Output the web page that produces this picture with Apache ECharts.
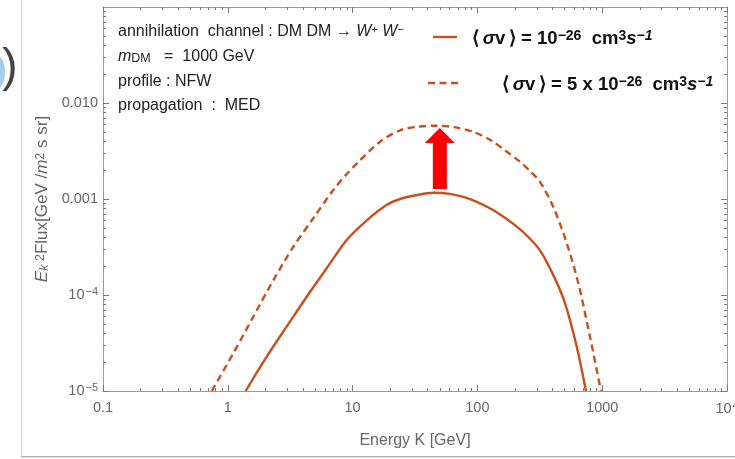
<!DOCTYPE html>
<html><head><meta charset="utf-8">
<script src="https://cdn.jsdelivr.net/npm/echarts@6/dist/echarts.min.js"></script>
<style>html,body{margin:0;padding:0;background:#fff}#c{width:735px;height:459px}</style>
</head><body><div id="c"></div>
<script>
// ---- data ----
const xTickValues = [0.1, 1, 10, 100, 1000, 10000];
const xTickLabels = ['0.1', '1', '10', '100', '1000', '10{sup|4}'];
const yTickValues = [1e-5, 1e-4, 1e-3, 1e-2];
const yTickLabels = ['10{sup|\u22125}', '10{sup|\u22124}', '0.001', '0.010'];
const xMinorValues = [0.2,0.3,0.4,0.5,0.6,0.7,0.8,0.9, 2,3,4,5,6,7,8,9, 20,30,40,50,60,70,80,90, 200,300,400,500,600,700,800,900, 2000,3000,4000,5000,6000,7000,8000,9000];
const yMinorValues = [2e-5,3e-5,4e-5,5e-5,6e-5,7e-5,8e-5,9e-5, 2e-4,3e-4,4e-4,5e-4,6e-4,7e-4,8e-4,9e-4, 2e-3,3e-3,4e-3,5e-3,6e-3,7e-3,8e-3,9e-3, 2e-2,3e-2,4e-2,5e-2,6e-2,7e-2,8e-2,9e-2];

const seriesNames = ['<σv> = 1e-26 cm3/s', '<σv> = 5 x 1e-26 cm3/s'];
const energySolid = [1.39, 2.05, 2.96, 4.29, 6.2, 8.97, 13, 18.7, 24, 33, 44.4, 60, 77, 100, 126, 152, 194, 250, 318, 405, 504, 625, 741];
const fluxSolid   = [1e-5, 2.28e-5, 4.68e-5, 9.6e-5, 1.9e-4, 3.74e-4, 6.0e-4, 8.66e-4, 1.0e-3, 1.1e-3, 1.16e-3, 1.13e-3, 1.05e-3, 9.3e-4, 8.0e-4, 6.9e-4, 5.5e-4, 4.14e-4, 2.9e-4, 1.62e-4, 8.2e-5, 2.9e-5, 1e-5];
const energyDashed = [0.743, 1.107, 1.6, 2.32, 3.35, 4.84, 7.0, 8.97, 11, 16.6, 24, 33, 47, 65, 92.7, 130, 172, 219, 270, 318, 405, 520, 644, 798, 977];
const fluxDashed   = [1e-5, 2.47e-5, 5.94e-5, 1.43e-4, 3.18e-4, 6.3e-4, 1.24e-3, 1.82e-3, 2.4e-3, 3.95e-3, 5.2e-3, 5.65e-3, 5.8e-3, 5.6e-3, 5.0e-3, 4.05e-3, 3.11e-3, 2.45e-3, 1.9e-3, 1.5e-3, 8.3e-4, 3.46e-4, 1.32e-4, 3.68e-5, 1e-5];
const arrowEnergy = 50;
const arrowFluxFrom = 1.27e-3;
const arrowFluxTo = 5.5e-3;

// ---- style ----
const FONT = '"Liberation Sans", Arial, sans-serif';
const LINE_COLOR = '#c9501c';
const AXIS_COLOR = '#9a9a9a';
const LABEL_COLOR = '#666';

function pickLabel(values, labels) {
  return function (v) {
    for (let i = 0; i < values.length; i++) {
      if (Math.abs(Math.log10(v) - Math.log10(values[i])) < 1e-6) return labels[i];
    }
    return '';
  };
}
const labelRich = { sup: { fontSize: 11, color: LABEL_COLOR, verticalAlign: 'top', padding: [0, 0, 6, 1], fontFamily: FONT } };

function xAx(pos, minor, showLabel) {
  return {
    type: 'log', logBase: 10, min: 0.1, max: 10000, position: pos, gridIndex: 0,
    axisLine: { show: !minor, onZero: false, lineStyle: { color: AXIS_COLOR, width: 1 } },
    axisTick: { show: true, inside: true, length: minor ? 3 : 6, customValues: minor ? xMinorValues : xTickValues, lineStyle: { color: '#777' } },
    axisLabel: { show: !!showLabel, customValues: xTickValues, formatter: pickLabel(xTickValues, xTickLabels), color: LABEL_COLOR, fontSize: 14.5, fontFamily: FONT, margin: 9, rich: labelRich, hideOverlap: false, showMaxLabel: true, showMinLabel: true },
    splitLine: { show: false }, minorTick: { show: false },
    name: showLabel ? 'Energy K [GeV]' : '', nameLocation: 'middle', nameGap: 42,
    nameTextStyle: { color: LABEL_COLOR, fontSize: 16, fontFamily: FONT }
  };
}
function yAx(pos, minor, showLabel) {
  return {
    type: 'log', logBase: 10, min: 1e-5, max: 0.1, position: pos, gridIndex: 0,
    axisLine: { show: !minor, onZero: false, lineStyle: { color: AXIS_COLOR, width: 1 } },
    axisTick: { show: true, inside: true, length: minor ? 3 : 6, customValues: minor ? yMinorValues : yTickValues, lineStyle: { color: '#777' } },
    axisLabel: { show: !!showLabel, customValues: yTickValues, formatter: pickLabel(yTickValues, yTickLabels), color: LABEL_COLOR, fontSize: 14.5, fontFamily: FONT, margin: 5, rich: labelRich },
    splitLine: { show: false }, minorTick: { show: false },
    name: showLabel ? '{it|E}{sub|k}{sup2| 2}{n|Flux[GeV /}{it|m}{sup2|2}{n| s sr]}' : '',
    nameLocation: 'middle', nameGap: 52, nameRotate: 90,
    nameTextStyle: {
      color: LABEL_COLOR, fontSize: 17, fontFamily: FONT,
      rich: {
        n: { fontSize: 17, color: LABEL_COLOR, fontFamily: FONT },
        it: { fontSize: 17, fontStyle: 'italic', color: LABEL_COLOR, fontFamily: FONT },
        sub: { fontSize: 12.5, fontStyle: 'italic', color: LABEL_COLOR, fontFamily: FONT, verticalAlign: 'bottom' },
        sup2: { fontSize: 12.5, color: LABEL_COLOR, fontFamily: FONT, verticalAlign: 'top' }
      }
    }
  };
}

const chart = echarts.init(document.getElementById('c'), null, { renderer: 'canvas' });

const legRich = {
  b: { fontFamily: FONT, fontSize: 18.5, fontWeight: 'bold', fill: '#111' },
  bi: { fontFamily: FONT, fontSize: 18.5, fontWeight: 'bold', fontStyle: 'italic', fill: '#111' },
  bs: { fontFamily: FONT, fontSize: 14, fontWeight: 'bold', fill: '#111', verticalAlign: 'top' },
  bsi: { fontFamily: FONT, fontSize: 14, fontWeight: 'bold', fontStyle: 'italic', fill: '#111', verticalAlign: 'top' }
};
const infoRich = {
  n: { fontFamily: FONT, fontSize: 16, fill: '#222' },
  it: { fontFamily: FONT, fontSize: 16, fontStyle: 'italic', fill: '#222' },
  sup: { fontFamily: FONT, fontSize: 11, fill: '#222', verticalAlign: 'top' },
  sub: { fontFamily: FONT, fontSize: 12.5, fill: '#222', verticalAlign: 'bottom' }
};
const TS = '\u2009';

chart.setOption({
  animation: false,
  backgroundColor: '#fff',
  grid: { left: 103, right: 8, top: 7, bottom: 68, containLabel: false, outerBoundsMode: 'none' },
  xAxis: [xAx('bottom', false, true), xAx('bottom', true, false), xAx('top', false, false), xAx('top', true, false)],
  yAxis: [yAx('left', false, true), yAx('left', true, false), yAx('right', false, false), yAx('right', true, false)],
  series: [
    { name: seriesNames[0], type: 'line', xAxisIndex: 0, yAxisIndex: 0, showSymbol: false, smooth: 0.3,
      data: energySolid.map((e, i) => [e, fluxSolid[i]]),
      lineStyle: { color: LINE_COLOR, width: 2.4 }, itemStyle: { color: LINE_COLOR } },
    { name: seriesNames[1], type: 'line', xAxisIndex: 0, yAxisIndex: 0, showSymbol: false, smooth: 0.3,
      data: energyDashed.map((e, i) => [e, fluxDashed[i]]),
      lineStyle: { color: LINE_COLOR, width: 2.4, type: [7, 4.5] }, itemStyle: { color: LINE_COLOR } }
  ],
  graphic: [
    // page decoration at the left edge
    { type: 'rect', shape: { x: 21, y: 0, width: 1, height: 457 }, style: { fill: '#d6d6d6' }, silent: true },
    { type: 'rect', shape: { x: 21, y: 456, width: 714, height: 1.5 }, style: { fill: '#b5b5b5' }, silent: true },
    { type: 'ellipse', shape: { cx: -2, cy: 72, rx: 7, ry: 16 }, style: { fill: '#a9cde8' }, silent: true },
    { type: 'text', x: 10, y: 68, style: { text: ')', fontFamily: FONT, fontSize: 46, fill: '#444', textAlign: 'center', textVerticalAlign: 'middle' }, silent: true },
    // info block
    { type: 'text', x: 118, y: 32, style: { text: '{n|annihilation  channel : DM DM \u2192 }{it|W}{sup|+}{n| }{it|W}{sup|\u2212}', rich: infoRich, textVerticalAlign: 'middle' } },
    { type: 'text', x: 118, y: 57, style: { text: '{it|m}{sub|DM}{n|   =  1000 GeV}', rich: infoRich, textVerticalAlign: 'middle' } },
    { type: 'text', x: 118, y: 82, style: { text: '{n|profile : NFW}', rich: infoRich, textVerticalAlign: 'middle' } },
    { type: 'text', x: 118, y: 106, style: { text: '{n|propagation  :  MED}', rich: infoRich, textVerticalAlign: 'middle' } },
    // legend
    { type: 'line', shape: { x1: 433, y1: 37, x2: 457, y2: 37 }, style: { stroke: LINE_COLOR, lineWidth: 2.4 } },
    { type: 'text', x: 472, y: 39, style: { text: '{b|\u27E8' + TS + '}{bi|\u03C3}{b|v' + TS + '\u27E9 = 10}{bs|\u221226}{b|  cm}{bs|3}{bi|s}{bsi|\u22121}', rich: legRich, textVerticalAlign: 'middle' } },
    { type: 'line', shape: { x1: 428, y1: 83, x2: 462, y2: 83 }, style: { stroke: LINE_COLOR, lineWidth: 2.4, lineDash: [7, 4.5] } },
    { type: 'text', x: 502, y: 85, style: { text: '{b|\u27E8' + TS + '}{bi|\u03C3}{b|v' + TS + '\u27E9 = 5 x 10}{bs|\u221226}{b|  cm}{bs|3}{bi|s}{bsi|\u22121}', rich: legRich, textVerticalAlign: 'middle' } }
  ]
});

// arrow placed in data coordinates
const pFrom = chart.convertToPixel({ xAxisIndex: 0, yAxisIndex: 0 }, [arrowEnergy, arrowFluxFrom]);
const pTo = chart.convertToPixel({ xAxisIndex: 0, yAxisIndex: 0 }, [arrowEnergy, arrowFluxTo]);
const cx = pTo[0], headH = 15, headW = 15, shaftW = 7;
chart.setOption({
  graphic: [
    { id: 'arrow', type: 'polygon', shape: { points: [
      [cx, pTo[1]], [cx + headW, pTo[1] + headH], [cx + shaftW, pTo[1] + headH], [cx + shaftW, pFrom[1]],
      [cx - shaftW, pFrom[1]], [cx - shaftW, pTo[1] + headH], [cx - headW, pTo[1] + headH]
    ] }, style: { fill: '#ff0000' }, z: 100 }
  ]
});
</script></body></html>
